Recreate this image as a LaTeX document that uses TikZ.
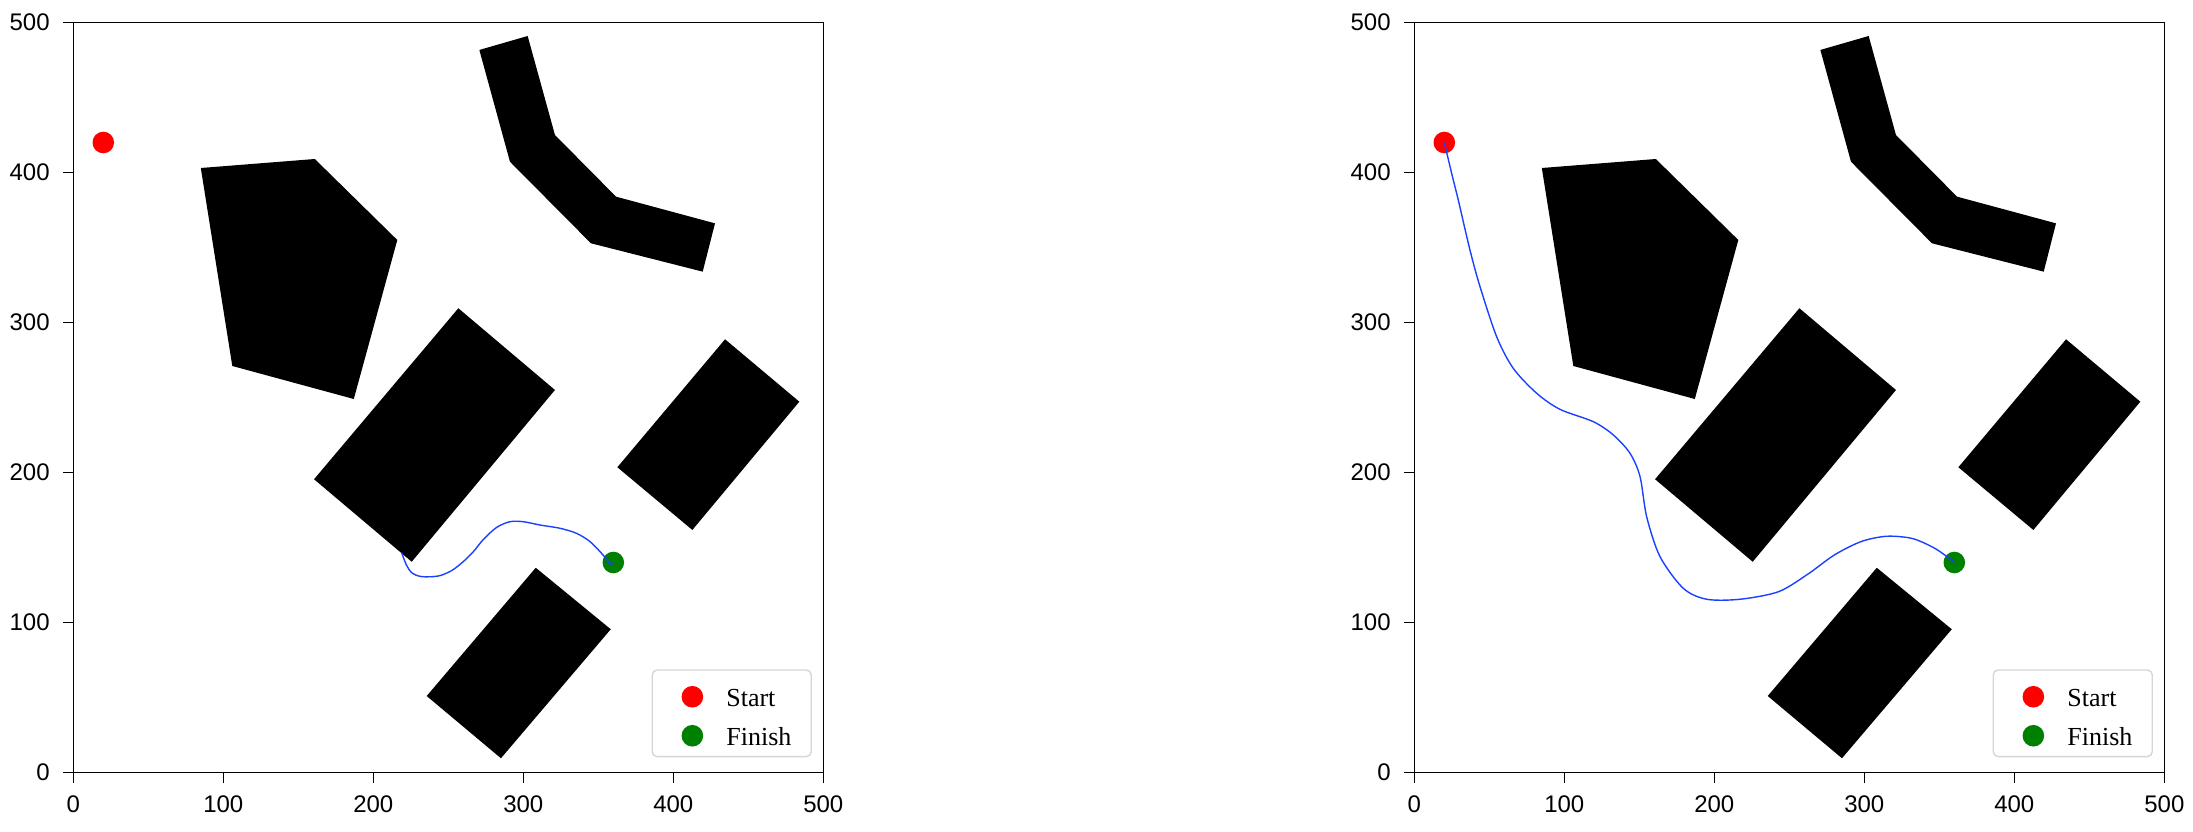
\documentclass[tikz,border=0pt]{standalone}
\usepackage{fontspec}
\setmainfont{Liberation Serif}
\newfontfamily\ticksfont{Liberation Sans}
\definecolor{pathblue}{RGB}{25,65,255}
\definecolor{mplgreen}{RGB}{0,128,0}
\definecolor{legedge}{RGB}{214,214,214}
\tikzset{
  obst/.style={fill=black, draw=none},
  spine/.style={line width=0.65pt, black},
  tickmark/.style={line width=0.65pt, black},
  ticklab/.style={font=\ticksfont\fontsize{12pt}{14pt}\selectfont, inner sep=0pt},
  legtext/.style={font=\fontsize{13pt}{15pt}\selectfont, inner sep=0pt, anchor=base west},
  dotred/.style={circle, fill=red, minimum size=10.8pt, inner sep=0pt},
  dotgreen/.style={circle, fill=mplgreen, minimum size=10.8pt, inner sep=0pt},
  trajectory/.style={pathblue, line width=0.7pt, line join=round},
  legbox/.style={draw=legedge, fill=white, rounded corners=2.5pt, line width=0.7pt},
}
\newcommand{\drawmapaxes}[1]{%
  % obstacles
  \fill[obst] (85,403) -- (161,409) -- (216,355) -- (187,249) -- (106,271) -- cycle;
  \fill[obst] (270.7,481.7) -- (302.9,491) -- (321.1,425) -- (361.8,383.9) -- (427.8,366.1)
     -- (419.6,333.9) -- (345.1,352.8) -- (291.1,407.2) -- cycle;
  \fill[obst] (256.7,309.5) -- (321.1,255) -- (225.6,140.5) -- (160.5,195.5) -- cycle;
  \fill[obst] (434.5,288.8) -- (484,247.2) -- (412.7,161.7) -- (362.7,203.5) -- cycle;
  \fill[obst] (308.3,136.5) -- (358.3,95.5) -- (285.1,9.5) -- (235.6,51) -- cycle;
  % frame
  \draw[spine] (0,0) rectangle (500,500);
  \foreach \v in {0,100,...,500} {
    \draw[tickmark] (\v,0) -- ++(0,-6.67);
    \node[ticklab] (#1x\v) at (\v,-21) {\v};
    \draw[tickmark] (0,\v) -- ++(-6.67,0);
    \node[ticklab, anchor=east] (#1y\v) at (-15.5,\v) {\v};
  }
  % start / finish
  \node[dotred] (#1start) at (20,420) {};
  \node[dotgreen] (#1finish) at (360,140) {};
  % legend
  \node[legbox, minimum width=79.5pt, minimum height=43.35pt, anchor=south west] (#1legend) at (385.5,10.1) {};
  \node[dotred] (#1legred) at (412.7,50.5) {};
  \node[dotgreen] (#1leggreen) at (412.7,24.5) {};
  \node[legtext] (#1legstart) at (435.1,44.3) {Start};
  \node[legtext] (#1legfinish) at (435.1,17.9) {Finish};
}
\begin{document}
\begin{tikzpicture}
\useasboundingbox (0,0) rectangle (1096.5pt,415.5pt);
\begin{scope}[shift={(36.65pt,29.25pt)}, x=0.75pt, y=0.75pt]
  \drawmapaxes{L}
  \draw[trajectory] plot[smooth] coordinates {(218.9,146.6) (221.8,139) (225.6,133.2) (232.2,130.6)
    (243.4,131) (252.2,134.6) (260,140.6) (266.7,147.2) (273.4,155.4) (282.2,163.4) (291.1,167.2)
    (300,167.2) (311.1,165) (324.5,162.8) (335.6,159.4) (344.5,153.9) (352.2,146.1) (358.2,139) (Lfinish.center)};
\end{scope}
\begin{scope}[shift={(707.15pt,29.25pt)}, x=0.75pt, y=0.75pt]
  \drawmapaxes{R}
  \draw[trajectory] plot[smooth] coordinates {(Rstart.center) (24.9,399.4) (29.3,381.7) (37.1,348.3)
    (43.8,323.9) (54.9,290.5) (66,269.4) (81.6,252.8) (97.1,242.1) (119.3,233.9) (132.7,225)
    (143.8,212.8) (150.5,197.2) (154.9,170.5) (163.8,143.9) (179.3,122.8) (194.9,115.5) (217.1,115.5)
    (242.7,120.5) (262,132) (280,145) (298,154) (315,157.5) (332,156) (346,150) (355,144) (Rfinish.center)};
\end{scope}
\end{tikzpicture}
\end{document}
